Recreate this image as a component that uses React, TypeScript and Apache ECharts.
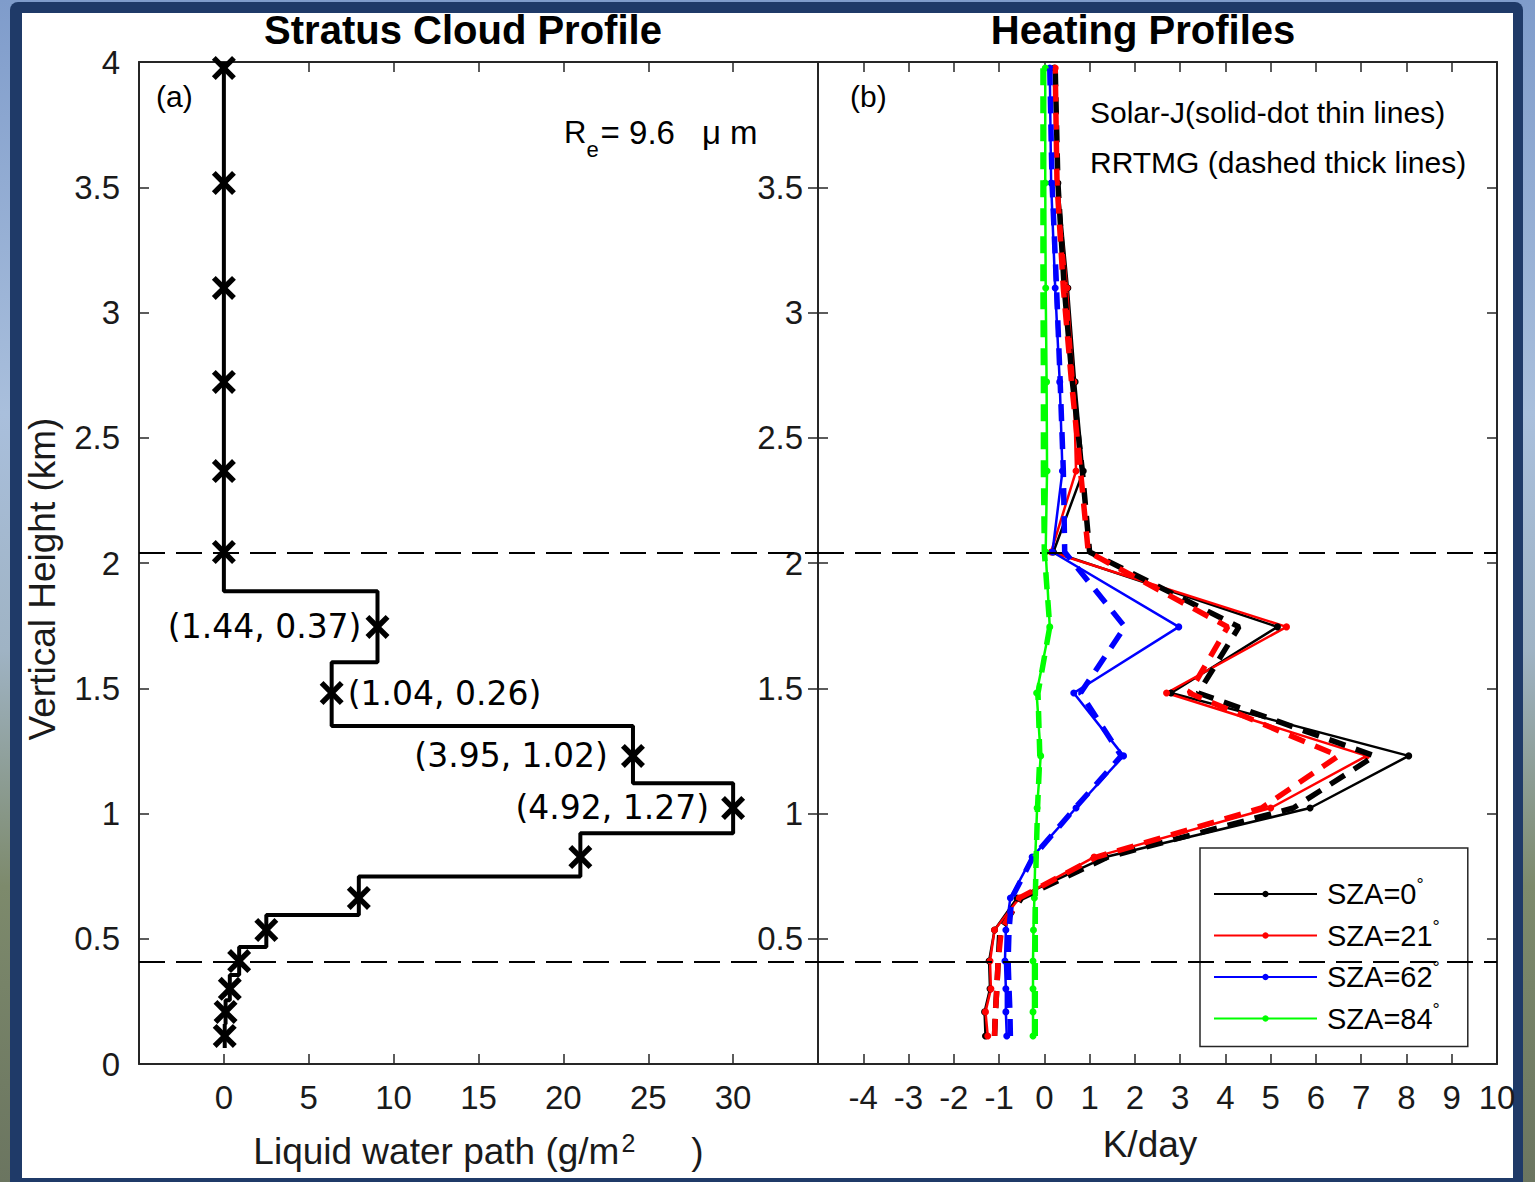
import React, { useEffect, useRef } from 'react';
import * as echarts from 'echarts';

// ---------- data ----------
// model levels (km) shared by both panels
const heights = [0.112, 0.208, 0.30, 0.411, 0.535, 0.663, 0.826, 1.022, 1.23, 1.481, 1.745, 2.044, 2.367, 2.723, 3.098, 3.517, 3.976];
// layer edges (km) of the step profile, bottom to top
const layerEdges = [0.064, 0.16, 0.254, 0.355, 0.467, 0.595, 0.749, 0.921, 1.121, 1.349, 1.604, 1.887, 2.2, 2.545, 2.91, 3.3, 3.75, 4.0];
// liquid water path (g/m^2) per level
const lwp = [0.05, 0.1, 0.35, 0.9, 2.5, 7.95, 21.0, 30.0, 24.1, 6.35, 9.05, 0, 0, 0, 0, 0, 0];
// annotation strings and the level index they sit next to
const annotTexts = ['(1.44, 0.37)', '(1.04, 0.26)', '(3.95, 1.02)', '(4.92, 1.27)'];
const annotLevels = [10, 9, 8, 7];
// cloud top / base heights (km)
const cloudLines = [2.044, 0.411];

// heating rates (K/day), Solar-J (solid) and RRTMG (dashed)
const solarJ0 = [-1.3, -1.32, -1.2, -1.22, -1.1, -0.6, 1.35, 5.87, 8.05, 2.8, 5.15, 0.2, 0.86, 0.68, 0.52, 0.3, 0.22];
const solarJ21 = [-1.25, -1.3, -1.18, -1.2, -1.1, -0.55, 1.1, 5.0, 7.12, 2.7, 5.35, 0.15, 0.7, 0.65, 0.5, 0.28, 0.24];
const solarJ62 = [-0.83, -0.85, -0.85, -0.87, -0.85, -0.75, -0.27, 0.7, 1.75, 0.65, 2.97, 0.18, 0.4, 0.34, 0.24, 0.15, 0.12];
const solarJ84 = [-0.25, -0.25, -0.25, -0.25, -0.24, -0.22, -0.2, -0.16, -0.08, -0.17, 0.12, 0.03, 0.06, 0.05, 0.03, 0.02, 0.02];
const rrtmg0 = [-1.1, -1.08, -1.05, -1.02, -0.98, -0.5, 1.4, 5.5, 7.3, 3.4, 4.3, 1.0, 0.84, 0.62, 0.44, 0.3, 0.24];
const rrtmg21 = [-1.1, -1.08, -1.05, -1.02, -0.95, -0.55, 1.15, 4.8, 6.5, 3.2, 4.05, 0.97, 0.8, 0.6, 0.42, 0.28, 0.24];
const rrtmg62 = [-0.75, -0.76, -0.78, -0.8, -0.78, -0.72, -0.25, 0.68, 1.7, 0.8, 1.78, 0.45, 0.42, 0.35, 0.27, 0.17, 0.12];
const rrtmg84 = [-0.2, -0.2, -0.2, -0.2, -0.2, -0.2, -0.18, -0.15, -0.1, -0.14, 0.12, 0.0, -0.02, -0.02, -0.03, -0.03, -0.03];

const szaNames = ['SZA=0°', 'SZA=21°', 'SZA=62°', 'SZA=84°'];

// tick labels shown
const lwpTicks = [0, 5, 10, 15, 20, 25, 30];
const heatTicks = [-4, -3, -2, -1, 0, 1, 2, 3, 4, 5, 6, 7, 8, 9, 10];
const heightTicksLeft = [0, 0.5, 1, 1.5, 2, 2.5, 3, 3.5, 4];
const heightTicksRight = [0.5, 1, 1.5, 2, 2.5, 3, 3.5];

const F = '"Liberation Sans", Helvetica, Arial, sans-serif';
const FD = '"DejaVu Sans", sans-serif';
const AX = '#262626';

const xSymbol = 'path://M0,1.6L1.6,0L5,3.4L8.4,0L10,1.6L6.6,5L10,8.4L8.4,10L5,6.6L1.6,10L0,8.4L3.4,5Z';

function App() {
  const ref = useRef<HTMLDivElement>(null);

  useEffect(() => {
    document.body.style.margin = '0';
    document.body.style.overflow = 'hidden';
    const chart = echarts.init(ref.current!, null, { renderer: 'svg' });

    // step profile built from the layer edges
    const stepPoints: number[][] = [];
    lwp.forEach((v, i) => {
      stepPoints.push([v, layerEdges[i]]);
      stepPoints.push([v, layerEdges[i + 1]]);
    });

    const annotPos = ['left', 'right', 'left', 'left'];
    const annotDist = [4, 4, 13, 12];
    const markerData = heights.map((h, i) => {
      const k = annotLevels.indexOf(i);
      const item: any = { value: [lwp[i], h] };
      if (k >= 0) {
        item.label = {
          show: true,
          formatter: annotTexts[k],
          position: annotPos[k],
          distance: annotDist[k],
          fontFamily: FD,
          fontSize: 33,
          color: '#000',
        };
      }
      return item;
    });

    const colors = ['#000000', '#ff0000', '#0000ff', '#00ff00'];
    const solid = [solarJ0, solarJ21, solarJ62, solarJ84];
    const dashed = [rrtmg0, rrtmg21, rrtmg62, rrtmg84];

    const zip = (arr: number[]) => arr.map((v, i) => [v, heights[i]]);

    const solidSeries = solid.map((arr, k) => ({
      name: szaNames[k],
      type: 'line',
      xAxisIndex: 2,
      yAxisIndex: 2,
      data: zip(arr),
      symbol: 'circle',
      symbolSize: 7,
      showSymbol: true,
      lineStyle: { color: colors[k], width: 2.5 },
      itemStyle: { color: colors[k] },
      z: 4,
      ...(k === 0
        ? {
            markLine: {
              silent: true,
              symbol: 'none',
              label: { show: false },
              lineStyle: { color: '#000', width: 2, type: [26, 11] },
              data: cloudLines.map((y) => ({ yAxis: y })),
            },
          }
        : {}),
    }));

    const dashedSeries = dashed.map((arr, k) => ({
      name: 'RRTMG ' + szaNames[k],
      type: 'line',
      xAxisIndex: 2,
      yAxisIndex: 2,
      data: zip(arr),
      symbol: 'none',
      lineStyle: { color: colors[k], width: 5.5, type: [17, 11] },
      itemStyle: { color: colors[k] },
      z: 5,
    }));

    const tickStyle = { show: true, inside: true, length: 10, lineStyle: { color: AX, width: 1.5 } };
    const lineStyle = { show: true, onZero: false, lineStyle: { color: AX, width: 2 } };
    const lblStyle = { fontFamily: F, fontSize: 33, color: '#1a1a1a' };

    const option: any = {
      animation: false,
      backgroundColor: 'transparent',
      grid: [
        { left: 139, top: 62, width: 679, height: 1002, containLabel: false },
        { left: 818, top: 62, width: 679, height: 1002, containLabel: false },
      ],
      xAxis: [
        {
          gridIndex: 0, type: 'value', position: 'bottom', min: -5, max: 35, interval: 5,
          axisLine: lineStyle, axisTick: tickStyle, splitLine: { show: false },
          axisLabel: { ...lblStyle, margin: 17, formatter: (v: number) => (lwpTicks.includes(v) ? String(v) : '') },
          name: 'Liquid water path (g/m{sup|2})', nameLocation: 'middle', nameGap: 66,
          nameTextStyle: {
            fontFamily: F, fontSize: 37, color: '#1a1a1a',
            rich: { sup: { fontFamily: F, fontSize: 25, color: '#1a1a1a', padding: [0, 56, 18, 2] } },
          },
        },
        {
          gridIndex: 0, type: 'value', position: 'top', min: -5, max: 35, interval: 5,
          axisLine: lineStyle, axisTick: tickStyle, axisLabel: { show: false }, splitLine: { show: false },
        },
        {
          gridIndex: 1, type: 'value', position: 'bottom', min: -5, max: 10, interval: 1,
          axisLine: lineStyle, axisTick: tickStyle, splitLine: { show: false },
          axisLabel: { ...lblStyle, margin: 17, formatter: (v: number) => (heatTicks.includes(v) ? String(v) : '') },
          name: 'K/day', nameLocation: 'middle', nameGap: 62,
          nameTextStyle: { fontFamily: F, fontSize: 37, color: '#1a1a1a', padding: [0, 15, 0, 0] },
        },
        {
          gridIndex: 1, type: 'value', position: 'top', min: -5, max: 10, interval: 1,
          axisLine: lineStyle, axisTick: tickStyle, axisLabel: { show: false }, splitLine: { show: false },
        },
      ],
      yAxis: [
        {
          gridIndex: 0, type: 'value', position: 'left', min: 0, max: 4, interval: 0.5,
          axisLine: lineStyle, axisTick: tickStyle, splitLine: { show: false },
          axisLabel: { ...lblStyle, margin: 19, formatter: (v: number) => (heightTicksLeft.includes(v) ? String(v) : '') },
          name: 'Vertical Height (km)', nameLocation: 'middle', nameGap: 78,
          nameTextStyle: { fontFamily: F, fontSize: 37, color: '#1a1a1a', padding: [0, 32, 0, 0] },
        },
        {
          gridIndex: 0, type: 'value', position: 'right', min: 0, max: 4, interval: 0.5,
          axisLine: lineStyle, axisTick: tickStyle, axisLabel: { show: false }, splitLine: { show: false },
        },
        {
          gridIndex: 1, type: 'value', position: 'left', min: 0, max: 4, interval: 0.5,
          axisLine: lineStyle, axisTick: tickStyle, splitLine: { show: false },
          axisLabel: { ...lblStyle, margin: 15, formatter: (v: number) => (heightTicksRight.includes(v) ? String(v) : '') },
        },
        {
          gridIndex: 1, type: 'value', position: 'right', min: 0, max: 4, interval: 0.5,
          axisLine: lineStyle, axisTick: tickStyle, axisLabel: { show: false }, splitLine: { show: false },
        },
      ],
      legend: {
        data: szaNames,
        orient: 'vertical',
        left: 1200,
        top: 848,
        padding: [28, 28, 13, 13],
        itemWidth: 103,
        itemHeight: 8,
        itemGap: 8.5,
        backgroundColor: '#fff',
        borderColor: AX,
        borderWidth: 1.5,
        borderRadius: 0,
        selectedMode: false,
        formatter: (name: string) => name.replace('°', '{deg|°}'),
        textStyle: {
          fontFamily: F, fontSize: 29, color: '#000', lineHeight: 30, padding: [0, 0, 0, 5],
          rich: { deg: { fontFamily: F, fontSize: 18, color: '#000', padding: [0, 0, 18, 0] } },
        },
      },
      graphic: [
        { type: 'text', x: 463, y: 30, z: 100, style: { text: 'Stratus Cloud Profile', fontFamily: F, fontSize: 40, fontWeight: 'bold', fill: '#000', align: 'center', verticalAlign: 'middle' } },
        { type: 'text', x: 1143, y: 30, z: 100, style: { text: 'Heating Profiles', fontFamily: F, fontSize: 40, fontWeight: 'bold', fill: '#000', align: 'center', verticalAlign: 'middle' } },
        { type: 'text', x: 156, y: 96, z: 100, style: { text: '(a)', fontFamily: F, fontSize: 30, fill: '#000', align: 'left', verticalAlign: 'middle' } },
        { type: 'text', x: 850, y: 96, z: 100, style: { text: '(b)', fontFamily: F, fontSize: 30, fill: '#000', align: 'left', verticalAlign: 'middle' } },
        {
          type: 'text', x: 564, y: 132, z: 100,
          style: {
            text: 'R{sub|e}{eq|= 9.6}{mu|μ m}', fontFamily: F, fontSize: 31, fill: '#000', align: 'left', verticalAlign: 'middle',
            rich: {
              sub: { fontFamily: F, fontSize: 22, fill: '#000', padding: [34, 2, 0, 0] },
              eq: { fontFamily: F, fontSize: 33, fill: '#000' },
              mu: { fontFamily: F, fontSize: 33, fill: '#000', padding: [0, 0, 0, 27] },
            },
          },
        },
        { type: 'text', x: 1090, y: 112, z: 100, style: { text: 'Solar-J(solid-dot thin lines)', fontFamily: F, fontSize: 30, fill: '#000', align: 'left', verticalAlign: 'middle' } },
        { type: 'text', x: 1090, y: 162, z: 100, style: { text: 'RRTMG (dashed thick lines)', fontFamily: F, fontSize: 30, fill: '#000', align: 'left', verticalAlign: 'middle' } },
      ],
      series: [
        {
          name: 'LWP profile',
          type: 'line',
          xAxisIndex: 0,
          yAxisIndex: 0,
          data: stepPoints,
          symbol: 'none',
          lineStyle: { color: '#000', width: 4 },
          z: 3,
          markLine: {
            silent: true,
            symbol: 'none',
            label: { show: false },
            lineStyle: { color: '#000', width: 2, type: [26, 11] },
            data: cloudLines.map((y) => ({ yAxis: y })),
          },
        },
        {
          name: 'LWP levels',
          type: 'scatter',
          xAxisIndex: 0,
          yAxisIndex: 0,
          data: markerData,
          symbol: xSymbol,
          symbolSize: 24,
          itemStyle: { color: '#000', opacity: 1 },
          z: 4,
        },
        ...solidSeries,
        ...dashedSeries,
      ],
    };

    chart.setOption(option);
    return () => chart.dispose();
  }, []);

  return (
    <div style={{ position: 'relative', width: 1535, height: 1182, overflow: 'hidden', background: 'linear-gradient(180deg, #7f9ccb 0%, #a9bfdc 35%, #9fb3c4 55%, #7d8a6c 75%, #6b7560 100%)' }}>
      <div style={{ position: 'absolute', left: 10, top: 2, width: 1513, height: 1190, background: '#1f3a68', borderRadius: 8 }} />
      <div style={{ position: 'absolute', left: 22, top: 13, width: 1491, height: 1165, background: '#ffffff' }} />
      <div ref={ref} style={{ position: 'absolute', left: 0, top: 0, width: 1535, height: 1182 }} />
    </div>
  );
}

export default App;
